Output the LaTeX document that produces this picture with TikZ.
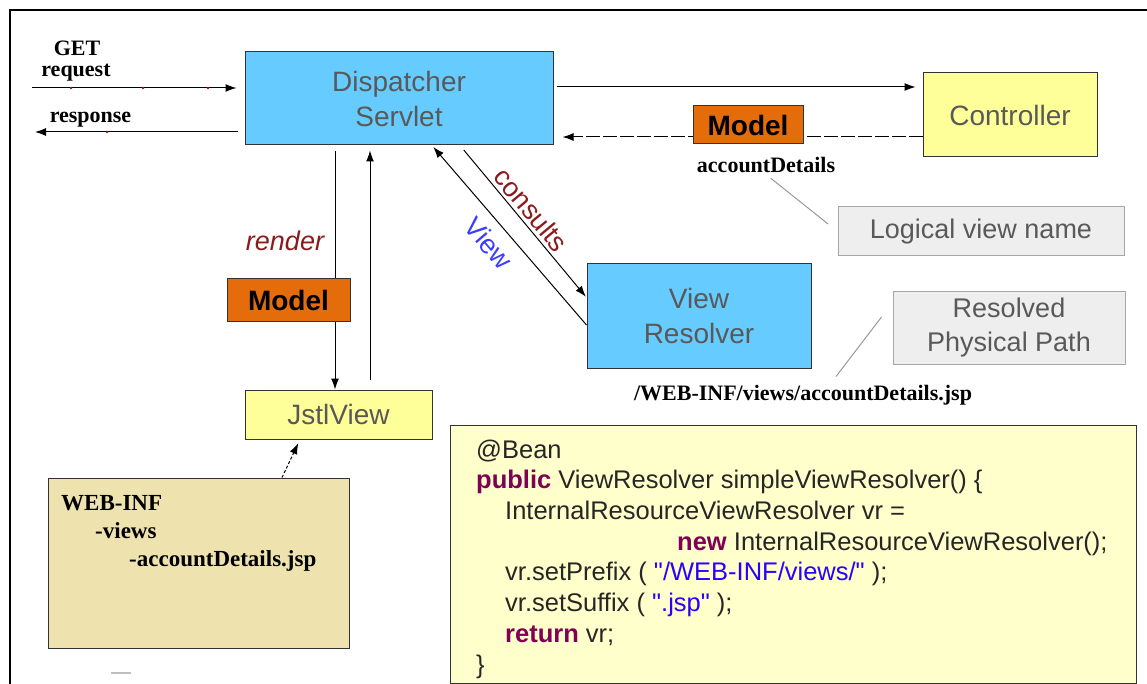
\documentclass[tikz,border=0pt]{standalone}
\usepackage{fontspec}
\setmainfont{Liberation Sans}
\newfontfamily\timesfont{Liberation Serif}
\newfontfamily\codefont{Liberation Sans}
\usetikzlibrary{arrows.meta}

\definecolor{servletblue}{HTML}{66CCFF}
\definecolor{ctrlyellow}{HTML}{FFFF99}
\definecolor{modelorange}{HTML}{E46C0A}
\definecolor{notegray}{HTML}{EEEEEE}
\definecolor{foldertan}{HTML}{EEE2AF}
\definecolor{codeyellow}{HTML}{FFFFCC}
\definecolor{boxtext}{HTML}{595959}
\definecolor{labelred}{HTML}{8C1C1C}
\definecolor{labelblue}{HTML}{3C3CFF}
\definecolor{kwpurple}{HTML}{7F0055}
\definecolor{strblue}{HTML}{2A00FF}

\newcommand{\jkw}[1]{\textcolor{kwpurple}{\textbf{#1}}}
\newcommand{\jstr}[1]{\textcolor{strblue}{"#1"}}

\begin{document}
\begin{tikzpicture}[x=1pt, y=-1pt,
        servlet/.style={draw=black!80, line width=1pt, rectangle, fill=servletblue, align=center, text=boxtext, font=\fontsize{28}{35}\selectfont},
        plain/.style={draw=black!80, line width=1pt, rectangle, fill=ctrlyellow, align=center, text=boxtext, font=\fontsize{28}{35}\selectfont},
        model/.style={draw=black!80, line width=1pt, rectangle, fill=modelorange, font=\fontsize{28}{32}\selectfont\bfseries, minimum width=110pt, minimum height=38pt},
        note/.style={draw=black!35, line width=1pt, rectangle, fill=notegray, align=center, text=boxtext, font=\fontsize{27}{34}\selectfont},
        tag/.style={font=\timesfont\bfseries\fontsize{22}{26}\selectfont, inner sep=1pt, anchor=base},
        arrow/.style={->, >={Latex[length=11pt, width=8pt]}, line width=1pt},
        back/.style={arrow, dash pattern=on 14pt off 3pt},
        pointer/.style={draw=black!40, line width=1pt}
    ]
    \useasboundingbox (0,0) rectangle (1147,684);
    \draw[line width=2pt] (10,684) -- (10,10) -- (1147,10);

    % --- Boxes ---
    \node[servlet, minimum width=308pt, minimum height=93pt] (disp) at (399,98.5) {Dispatcher\\Servlet};
    \node[plain, minimum width=174pt, minimum height=84pt] (ctrl) at (1010,115) {Controller};
    \node[servlet, minimum width=224pt, minimum height=104pt] (vres) at (699,316) {View\\Resolver};
    \node[plain, minimum width=187pt, minimum height=49pt] (jstl) at (338.5,414.5) {JstlView};
    \node[note, minimum width=286pt, minimum height=49pt] (logic) at (981,231.5) {Logical view name};
    \node[note, minimum width=232pt, minimum height=72pt] (phys) at (1009,328) {Resolved\\Physical Path};

    % --- Labels ---
    \node[tag] (get) at (77,56) {GET};
    \node[tag] (req) at (76,77) {request};
    \node[tag] (resp) at (90.5,123) {response};
    \node[tag] (acct) at (766,173) {accountDetails};
    \node[tag] (path) at (803,400) {/WEB-INF/views/accountDetails.jsp};
    \node[text=labelred, font=\fontsize{27}{32}\selectfont\itshape] (render) at (285,241) {render};

    \coordinate (reqin) at (32,88);
    \coordinate (respout) at (35,132);

    % --- Request / response ---
    \draw[arrow, shorten >=8pt] (reqin) -- (reqin -| disp.west);
    \draw[arrow, shorten <=7pt] (respout -| disp.west) -- (respout);
    \foreach \dx/\dy in {71/88, 143/88, 208/88, 107/132}
        \fill[labelred] (\dx,\dy) circle (1.3pt);

    % --- Controller round trip ---
    \draw[arrow, shorten <=3pt, shorten >=7pt] ([yshift=11.5pt]disp.east) -- ([yshift=28pt]ctrl.west);
    \draw[back, shorten >=9pt] ([yshift=-22pt]ctrl.west) -- ([yshift=-38.5pt]disp.east);
    \node[model] (mtop) at (748,125) {Model};

    % --- View resolution ---
    \draw[arrow, shorten <=6pt, shorten >=1pt] ([xshift=61pt]disp.south) -- node[pos=0.48, sloped, above, text=labelred, font=\fontsize{27}{32}\selectfont] {consults} ([yshift=-34pt]vres.north west);
    \draw[arrow, shorten >=2pt] ([yshift=-9pt]vres.west) -- node[pos=0.53, sloped, below=7pt, text=labelblue, font=\fontsize{27}{32}\selectfont] {View} ([xshift=33pt]disp.south);

    % --- Rendering ---
    \draw[arrow, shorten <=6pt] ([xshift=-64pt]disp.south) -- ([xshift=-3.5pt]jstl.north);
    \draw[arrow, shorten <=10pt, shorten >=5pt] ([xshift=31.5pt]jstl.north) -- ([xshift=-29pt]disp.south);
    \node[model, minimum width=123pt, minimum height=42pt] (mleft) at (288.5,300) {Model};

    % --- Notes ---
    \draw[pointer, shorten <=6pt, shorten >=12pt] (acct.south) -- (logic.west);
    \draw[pointer] ([xshift=33pt, yshift=7pt]path.north) -- ([xshift=-11pt, yshift=11pt]phys.west);

    % --- Folder ---
    \node[draw=black!80, line width=1pt, rectangle, fill=foldertan, minimum width=301pt, minimum height=170pt] (webinf) at (198.5,563) {};
    \node[anchor=north west, align=left, inner sep=0pt, font=\timesfont\bfseries\fontsize{23}{28}\selectfont] (tree) at (61,495) {WEB-INF\\\hspace*{34pt}-views\\\hspace*{68pt}-accountDetails.jsp};
    \draw[arrow, dash pattern=on 3pt off 2pt, shorten >=4pt] ([xshift=83.5pt]webinf.north) -- ([xshift=-38.5pt]jstl.south);
    \draw[black!25, line width=1.5pt] (111,673) -- (131,673);

    % --- Bean config ---
    \node[draw=black!80, line width=1pt, rectangle, fill=codeyellow, minimum width=686pt, minimum height=258pt] (code) at (793,554) {};
    \node[anchor=north west, align=left, inner sep=0pt, text=black!85, font=\codefont\fontsize{25.5}{30.7}\selectfont] (java) at (476,439.5) {@Bean\\
        \jkw{public} ViewResolver simpleViewResolver() \{\\
        \hspace*{29pt}InternalResourceViewResolver vr =\\
        \hspace*{201pt}\jkw{new} InternalResourceViewResolver();\\
        \hspace*{29pt}vr.setPrefix ( \jstr{/WEB-INF/views/} );\\
        \hspace*{29pt}vr.setSuffix ( \jstr{.jsp} );\\
        \hspace*{29pt}\jkw{return} vr;\\
        \}};

\end{tikzpicture}
\end{document}
